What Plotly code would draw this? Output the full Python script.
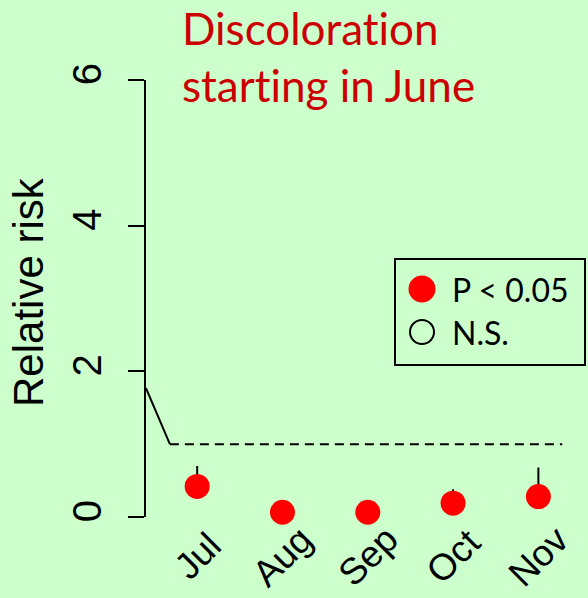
import plotly.graph_objects as go

# Relative risk of discoloration by month (onset in June)
months = ["Jul", "Aug", "Sep", "Oct", "Nov"]
month_pos = [1, 2, 3, 4, 5]
rel_risk = [0.42, 0.065, 0.065, 0.19, 0.28]
ci_upper = [0.70, 0.15, 0.15, 0.38, 0.68]
ci_lower = [0.26, 0.0, 0.0, 0.05, 0.13]

# Reference lines: drop from the June level to RR = 1, then the null line
lead_x = [0.4, 0.68]
lead_y = [1.77, 1.0]
null_x = [0.68, 5.28]
null_y = [1.0, 1.0]

y_ticks = [0, 2, 4, 6]

BG = "#CCFFCC"
ARIAL = "Liberation Sans, Arial, sans-serif"
CAL = "Lato, Calibri, sans-serif"
ZWNJ = "\u200c"  # keeps "t" and "i" as separate glyphs

W, H = 588, 598
L, R, T, B = 146, 0, 80, 81
PW, PH = W - L - R, H - T - B


def px(x):
    return (x - L) / PW


def py(y):
    return (H - B - y) / PH


fig = go.Figure()

fig.add_trace(go.Scatter(x=lead_x, y=lead_y, mode="lines",
                         line=dict(color="black", width=2), hoverinfo="skip"))
fig.add_trace(go.Scatter(x=null_x, y=null_y, mode="lines",
                         line=dict(color="black", width=2, dash="9px,6px"),
                         hoverinfo="skip"))

err_plus = [u - v for u, v in zip(ci_upper, rel_risk)]
err_minus = [v - lo for v, lo in zip(rel_risk, ci_lower)]
fig.add_trace(go.Scatter(
    x=month_pos, y=rel_risk, mode="markers",
    marker=dict(color="#FF0000", size=25, line=dict(width=0)),
    error_y=dict(type="data", array=err_plus, arrayminus=err_minus,
                 color="black", thickness=2, width=0),
    cliponaxis=False,
))

# Rotated month labels under each point
for xp, m in zip(month_pos, months):
    fig.add_annotation(x=xp, xref="x", y=py(556), yref="paper",
                       text=m, textangle=-45, showarrow=False,
                       xanchor="center", yanchor="middle", borderpad=0,
                       font=dict(family=ARIAL, size=37, color="black"))

# Axis title
fig.add_annotation(x=px(28), xref="paper", y=py(292), yref="paper",
                   text="Relative risk", textangle=-90, showarrow=False,
                   xanchor="center", yanchor="middle",
                   font=dict(family=ARIAL, size=42, color="black"))

# Panel heading
heading = "Discoloration".replace("ti", "t" + ZWNJ + "i") + "<br>" + \
    "starting in June".replace("ti", "t" + ZWNJ + "i")
fig.add_annotation(x=px(180), xref="paper", y=py(0), yref="paper",
                   text=heading, showarrow=False,
                   xanchor="left", yanchor="top", align="left",
                   font=dict(family=CAL, size=44, color="#CC0000"))

# Legend box
fig.add_shape(type="rect", xref="paper", yref="paper",
              x0=px(395), x1=px(585), y0=py(365), y1=py(259),
              line=dict(color="black", width=2), fillcolor=BG)
fig.add_shape(type="circle", xref="paper", yref="paper",
              xsizemode="pixel", ysizemode="pixel",
              xanchor=px(422), yanchor=py(289),
              x0=-13.5, x1=13.5, y0=-13.5, y1=13.5,
              fillcolor="#FF0000", line=dict(width=0))
fig.add_shape(type="circle", xref="paper", yref="paper",
              xsizemode="pixel", ysizemode="pixel",
              xanchor=px(422), yanchor=py(332),
              x0=-12, x1=12, y0=-12, y1=12,
              fillcolor="rgba(0,0,0,0)", line=dict(color="black", width=2))
fig.add_annotation(x=px(450), xref="paper", y=py(289), yref="paper",
                   text="P < 0.05", showarrow=False,
                   xanchor="left", yanchor="middle",
                   font=dict(family=CAL, size=32, color="black"))
fig.add_annotation(x=px(450), xref="paper", y=py(332), yref="paper",
                   text="N.S.", showarrow=False,
                   xanchor="left", yanchor="middle",
                   font=dict(family=CAL, size=32, color="black"))

fig.update_layout(
    width=W, height=H,
    margin=dict(l=L, r=R, t=T, b=B, pad=0),
    paper_bgcolor=BG, plot_bgcolor=BG,
    showlegend=False,
    xaxis=dict(range=[0.4, 0.4 + PW / 85.3], showgrid=False, zeroline=False,
               showline=False, showticklabels=False, ticks=""),
    yaxis=dict(range=[0, 6], tickvals=y_ticks, ticktext=[str(v) for v in y_ticks],
               showgrid=False, zeroline=False,
               showline=True, linecolor="black", linewidth=2,
               ticks="outside", ticklen=16, tickwidth=2, tickcolor="black",
               tickangle=-90, ticklabelstandoff=11,
               tickfont=dict(family=ARIAL, size=40, color="black")),
)

fig.write_html("out.html")
